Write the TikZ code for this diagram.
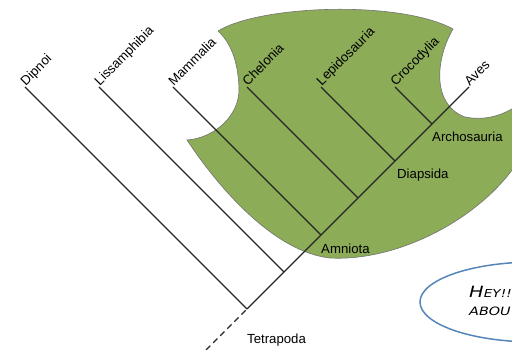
\documentclass[tikz,border=0pt]{standalone}
\usepackage{fontspec}
\setmainfont{Liberation Sans}
\newfontfamily\heyfont[FakeStretch=1.25]{DejaVu Sans}
\usetikzlibrary{arrows}
\definecolor{clade}{RGB}{140,172,88}
\definecolor{bubble}{RGB}{84,134,186}
\tikzset{taxon/.style={anchor=base west, rotate=45, inner sep=1pt, font=\fontsize{13.2}{15}\selectfont},
  group/.style={anchor=north west, inner sep=0pt, font=\fontsize{13.2}{15}\selectfont},
  branch/.style={line width=1.2pt, black!85}}

\begin{document}
\begin{tikzpicture}[x=1pt,y=-1pt]
      \useasboundingbox (0,0) rectangle (512,350);
      \clip (0,0) rectangle (512,350);
      \filldraw[fill=clade, draw=black!55, line width=0.6pt] (218,31) .. controls (260,5) and (400,0) .. (453,29)
        .. controls (435,60) and (432,105) .. (465,117) .. controls (490,122) and (510,112) .. (525,100)
        -- (525,150) .. controls (490,215) and (400,262) .. (330,258)
        .. controls (275,252) and (220,190) .. (187,140)
        .. controls (215,138) and (240,115) .. (239,88) .. controls (238,60) and (230,42) .. (218,31) -- cycle;
      \foreach \i in {0,...,6}
      \coordinate (tip\i) at (25+74*\i,87);
      \foreach \i in {0,...,6}
      \coordinate (fork\i) at (247+37*\i,309-37*\i);
      \coordinate (root) at (199,357);
      \draw[branch, dash pattern=on 6pt off 4pt] (root) -- (fork0);
      \draw[branch] (fork0) -- (tip6);
      \foreach \i in {0,...,5}
      \draw[branch] (fork\i) -- (tip\i);
      \foreach \i/\t in {0/Dipnoi,1/Lissamphibia,2/Mammalia,3/Chelonia,4/Lepidosauria,5/Crocodylia,6/Aves}
      \node[taxon] (\t) at (tip\i) {\t};
      \node[group] (tetrapoda) at ([yshift=-25pt]fork0) {Tetrapoda};
      \node[group] (amniota) at ([yshift=-9pt]fork2) {Amniota};
      \node[group] (diapsida) at ([xshift=2pt,yshift=-8pt]fork4) {Diapsida};
      \node[group] (archosauria) at ([yshift=-8pt]fork5) {Archosauria};
      \draw[bubble, line width=1.5pt] (535,302) ellipse [x radius=115pt, y radius=40pt];
      \node[anchor=base west, inner sep=0pt, font=\heyfont\itshape\fontsize{15.5}{18}\selectfont] (hey) at (469,298) {H{\fontsize{11}{13}\selectfont EY!!}};
      \node[anchor=base west, inner sep=0pt, font=\heyfont\itshape\fontsize{11.5}{13}\selectfont] (abou) at (469,315) {ABOU};
\end{tikzpicture}
\end{document}
